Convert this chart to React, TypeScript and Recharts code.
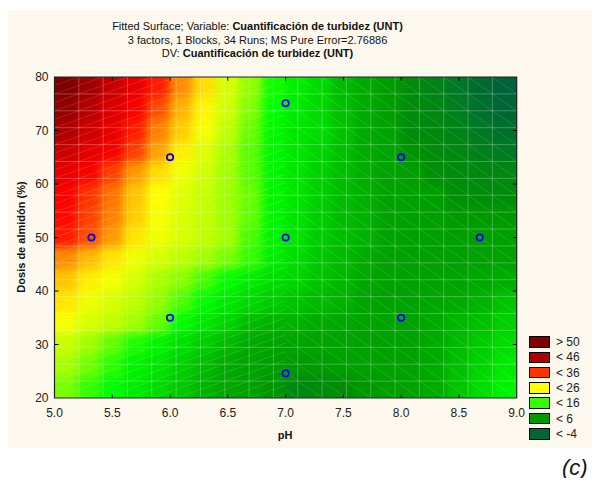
import { ScatterChart, Scatter, XAxis, YAxis, ReferenceArea, ReferenceLine } from "recharts"

// centros de celda (pH) y filas (dosis, de arriba a abajo)
const pH = [5.1, 5.3, 5.5, 5.7, 5.9, 6.1, 6.3, 6.5, 6.7, 6.9, 7.1, 7.3, 7.5, 7.7, 7.9, 8.1, 8.3, 8.5, 8.7, 8.9]
const dosis = [78, 74, 70, 66, 62, 58, 54, 50, 46, 42, 38, 34, 30, 26, 22]

// turbidez estimada (UNT), por fila
const fila78 = [50.5, 47.5, 44.5, 41, 37, 32.5, 28, 23.5, 19.8, 16.3, 15, 13.8, 12, 11, 8, 5, 4, 2, -1, -3]
const fila74 = [48.5, 45.5, 42.5, 39, 35, 30.5, 26.5, 22.8, 19.2, 16, 14.8, 13.8, 12.2, 11, 8.5, 5, 4.5, 3, 0, -2]
const fila70 = [46.5, 44, 41, 37, 33, 29, 25.5, 22, 18.5, 15.7, 14.5, 14, 12.5, 11, 9.5, 5, 4.8, 4, 2, 0]
const fila66 = [44, 41.5, 39, 35.5, 31.5, 27, 24, 21, 18, 15.5, 14.5, 13.5, 12.3, 11, 10, 6, 5, 4.5, 3.5, 2.5]
const fila62 = [41, 38.5, 35.5, 32, 28, 25.2, 23, 20.5, 18, 15.5, 14.5, 13.3, 12.2, 11.2, 9.5, 8.5, 5.5, 5, 4.5, 4.5]
const fila58 = [38.5, 36, 33.5, 29.5, 26, 24.2, 22.3, 20.3, 18.5, 15.5, 14.5, 13.2, 12, 11.3, 9.5, 9, 8, 5.5, 5, 5]
const fila54 = [37.7, 35.5, 33, 29, 25.5, 23.8, 22.1, 20.4, 18.3, 15.5, 14.4, 13.1, 12, 11.4, 9.5, 9, 8.8, 7.5, 7.5, 7.5]
const fila50 = [37, 35, 32, 27.5, 25, 23.5, 22, 20.5, 17.5, 15.3, 14.3, 13, 12.2, 11.5, 9.5, 9, 9, 8.5, 8.5, 9]
const fila46 = [32.5, 30, 27.5, 25, 23.3, 21.8, 20.5, 19, 17, 15, 14, 12.8, 12, 11, 9.5, 9, 9, 9, 9.2, 9.8]
const fila42 = [29.5, 27, 25.3, 23.3, 21, 19.5, 17.5, 16, 14.8, 14, 13.5, 12.5, 11.8, 10.5, 9.5, 9.2, 9.5, 10, 10.5, 11.2]
const fila38 = [27.5, 25, 23.5, 21.8, 19.8, 17.8, 16, 14.8, 13.8, 13, 12.5, 12, 11.5, 10, 9.5, 9.5, 10.5, 11, 11.5, 12.5]
const fila34 = [25.5, 23.5, 22, 20.5, 18.5, 16, 14.7, 13.5, 12, 11.5, 11.5, 11, 10.5, 9.7, 9.4, 9.5, 11, 11.8, 12.3, 13.3]
const fila30 = [22.3, 20.3, 18.3, 16.5, 15.3, 14.2, 13, 12, 10.8, 10, 10, 10, 9.8, 9.5, 9.3, 9.5, 11, 12, 13, 14]
const fila26 = [20.8, 18.8, 16.8, 15.3, 14.5, 13.3, 12.2, 11, 10, 8.5, 7.5, 8, 9, 9.3, 9.3, 9.5, 11, 12.3, 13.5, 14.8]
const fila22 = [19, 17, 15.8, 14.8, 13.8, 12.8, 11.5, 10.5, 9, 6.5, 4.5, 5, 5.5, 7, 9, 9.5, 11, 12.5, 14, 15.3]
const superficie = [fila78, fila74, fila70, fila66, fila62, fila58, fila54, fila50, fila46, fila42, fila38, fila34, fila30, fila26, fila22]

// puntos experimentales
const puntosPH = [5.32, 6, 6, 7, 7, 7, 8, 8, 8.68]
const puntosDosis = [50, 65, 35, 75.1, 50, 24.6, 65, 35, 50]

const xTicks = [5, 5.5, 6, 6.5, 7, 7.5, 8, 8.5, 9]
const yTicks = [20, 30, 40, 50, 60, 70, 80]
const leyenda = ["> 50", "< 46", "< 36", "< 26", "< 16", "< 6", "< -4"]
const leyendaColores = ["#800000", "#B00000", "#FF3300", "#FFFF00", "#33FF00", "#009900", "#006633"]

const escala: [number, string][] = [
  [-4, "#005E40"], [-1, "#006A30"], [2, "#007826"], [4, "#008318"], [6, "#009200"],
  [8, "#009C00"], [10, "#00A400"], [11, "#00AA00"], [12, "#00BB00"], [13, "#00CC00"],
  [14, "#00DD00"], [15, "#00EE00"], [16, "#00FF00"], [17, "#33FF00"], [18, "#55FF00"],
  [19, "#77FF00"], [20, "#99FF00"], [21, "#AAFF00"], [22.5, "#CCFF00"], [24, "#DDFF00"],
  [25, "#EEFF00"], [26, "#FFFF00"], [28, "#FFDD00"], [30, "#FFBB00"], [32, "#FF9900"],
  [34, "#FF6600"], [36, "#FF3300"], [38, "#FF0000"], [40, "#EE0000"], [42, "#E00000"],
  [44, "#CC0000"], [46, "#B00000"], [48, "#990000"], [50, "#800000"], [54, "#700000"],
]

function hexToRgb(h: string) {
  return [1, 3, 5].map((i) => parseInt(h.slice(i, i + 2), 16))
}

function colorFor(v: number) {
  if (v <= escala[0][0]) return escala[0][1]
  for (let i = 1; i < escala.length; i++) {
    if (v <= escala[i][0]) {
      const [v0, c0] = escala[i - 1]
      const [v1, c1] = escala[i]
      const t = (v - v0) / (v1 - v0)
      const a = hexToRgb(c0)
      const b = hexToRgb(c1)
      const c = a.map((x, k) => Math.round(x + (b[k] - x) * t))
      return `rgb(${c[0]},${c[1]},${c[2]})`
    }
  }
  return escala[escala.length - 1][1]
}

const celdas = superficie.flatMap((fila, i) => fila.map((v, j) => ({ pH: pH[j], dosis: dosis[i], v })))
const puntos = puntosPH.map((x, i) => ({ pH: x, dosis: puntosDosis[i] }))

// malla 19x19 del ajuste (decorativa)
const N = 19
const mx = (i: number) => 5 + (i * 4) / N
const my = (j: number) => 20 + (j * 60) / N
const meshX = Array.from({ length: N - 1 }, (_, i) => mx(i + 1))
const meshY = Array.from({ length: N - 1 }, (_, j) => my(j + 1))
const SPLIT = 9.5
type Seg = [{ x: number; y: number }, { x: number; y: number }]
const diagonales: Seg[] = []
// izquierda: lineas "/" (y = (x - c) / 2)
for (let c = -38; c < SPLIT; c++) {
  const lo = Math.max(0, c)
  const hi = Math.min(SPLIT, c + 38)
  if (hi > lo) diagonales.push([{ x: mx(lo), y: my((lo - c) / 2) }, { x: mx(hi), y: my((hi - c) / 2) }])
}
// derecha: lineas "\" (y = c - x)
for (let c = 10; c <= 38; c++) {
  const lo = Math.max(SPLIT, c - N)
  const hi = Math.min(N, c)
  if (hi > lo) diagonales.push([{ x: mx(lo), y: my(c - lo) }, { x: mx(hi), y: my(c - hi) }])
}

const W = 608
const H = 486
const margin = { top: 77, right: 91.3, bottom: 58, left: 14.5 }
const yAxisW = 40
const xAxisH = 30
const plotW = W - margin.left - margin.right - yAxisW
const plotH = H - margin.top - margin.bottom - xAxisH
const cellW = (plotW * (pH[1] - pH[0])) / 4
const cellH = (plotH * (dosis[0] - dosis[1])) / 60

const font = "'Liberation Sans', Arial, sans-serif"

const Celda = (p: any) => (
  <rect
    x={p.cx - cellW / 2 - 0.5}
    y={p.cy - cellH / 2 - 0.5}
    width={cellW + 1}
    height={cellH + 1}
    fill={colorFor(p.payload.v)}
  />
)

const TOP = 2000

export default function App() {
  return (
    <div style={{ position: "relative", width: W, height: H, background: "#fff", fontFamily: font, margin: -8 }}>
      <style>{`.celdas-suaves { filter: blur(5px); }`}</style>
      <div style={{ position: "absolute", left: 7, top: 10, width: 585, height: 438, background: "#FDF8EE" }} />
      <div style={{ position: "absolute", left: 0, top: 0 }}>
        <ScatterChart width={W} height={H} margin={margin}>
          <XAxis
            type="number"
            dataKey="pH"
            domain={[5, 9]}
            ticks={xTicks}
            tickFormatter={(v: number) => v.toFixed(1)}
            allowDataOverflow
            height={xAxisH}
            tickSize={0}
            tickMargin={10}
            axisLine={false}
            tick={{ fill: "#222", fontSize: 12, fontFamily: font }}
          />
          <YAxis
            type="number"
            dataKey="dosis"
            domain={[20, 80]}
            ticks={yTicks}
            allowDataOverflow
            width={yAxisW}
            tickSize={0}
            tickMargin={6}
            axisLine={false}
            tick={{ fill: "#222", fontSize: 12, fontFamily: font }}
          />
          <Scatter data={celdas} isAnimationActive={false} shape={Celda} />
          <Scatter data={celdas} isAnimationActive={false} shape={Celda} className="celdas-suaves" />
          {meshX.map((x) => (
            <ReferenceLine key={`mx${x}`} zIndex={TOP} x={x} stroke="#ffffff" strokeOpacity={0.25} strokeWidth={1} />
          ))}
          {meshY.map((y) => (
            <ReferenceLine key={`my${y}`} zIndex={TOP} y={y} stroke="#ffffff" strokeOpacity={0.25} strokeWidth={1} />
          ))}
          {diagonales.map((s, i) => (
            <ReferenceLine key={`d${i}`} zIndex={TOP} segment={s} stroke="#ffffff" strokeOpacity={0.16} strokeWidth={0.8} />
          ))}
          {xTicks.slice(1, -1).map((x) => (
            <ReferenceLine key={`tb${x}`} zIndex={TOP} segment={[{ x, y: 20 }, { x, y: 20.7 }]} stroke="#000" strokeWidth={1} />
          ))}
          {xTicks.slice(1, -1).map((x) => (
            <ReferenceLine key={`tt${x}`} zIndex={TOP} segment={[{ x, y: 79.3 }, { x, y: 80 }]} stroke="#000" strokeWidth={1} />
          ))}
          {yTicks.slice(1, -1).map((y) => (
            <ReferenceLine key={`tl${y}`} zIndex={TOP} segment={[{ x: 5, y }, { x: 5.035, y }]} stroke="#000" strokeWidth={1} />
          ))}
          {yTicks.slice(1, -1).map((y) => (
            <ReferenceLine key={`tr${y}`} zIndex={TOP} segment={[{ x: 8.965, y }, { x: 9, y }]} stroke="#000" strokeWidth={1} />
          ))}
          <ReferenceArea zIndex={TOP} x1={5} x2={9} y1={20} y2={80} fill="none" stroke="#222" strokeWidth={1.2} ifOverflow="visible" />
          <Scatter
            zIndex={TOP + 10}
            data={puntos}
            isAnimationActive={false}
            shape={(p: any) => (
              <circle cx={p.cx} cy={p.cy} r={3.2} fill="none" stroke="#0000F0" strokeWidth={1.7} />
            )}
          />
        </ScatterChart>
      </div>

      <div style={{ position: "absolute", left: 0, width: 515, top: 20, textAlign: "center", fontSize: 11, lineHeight: "13.6px", color: "#111" }}>
        <div>
          Fitted Surface; Variable: <b>Cuantificación de turbidez (UNT)</b>
        </div>
        <div>3 factors, 1 Blocks, 34 Runs; MS Pure Error=2.76886</div>
        <div>
          DV: <b>Cuantificación de turbidez (UNT)</b>
        </div>
      </div>

      <div style={{ position: "absolute", left: 255, width: 60, top: 429, textAlign: "center", fontSize: 11, fontWeight: "bold", color: "#111" }}>
        pH
      </div>
      <div
        style={{
          position: "absolute",
          left: 21 - 80,
          top: 238 - 7,
          width: 160,
          textAlign: "center",
          fontSize: 11,
          fontWeight: "bold",
          color: "#111",
          transform: "rotate(-90deg)",
        }}
      >
        Dosis de almidón (%)
      </div>

      {leyenda.map((t, i) => (
        <div key={t} style={{ position: "absolute", left: 529, top: 336 + i * 15.3, height: 12, display: "flex", alignItems: "center" }}>
          <div style={{ width: 19, height: 9.5, background: leyendaColores[i], border: "1px solid #000" }} />
          <span style={{ marginLeft: 6, fontSize: 12, color: "#222" }}>{t}</span>
        </div>
      ))}

      <div style={{ position: "absolute", left: 562, top: 455, fontSize: 22, fontStyle: "italic", color: "#111" }}>(c)</div>
    </div>
  )
}
